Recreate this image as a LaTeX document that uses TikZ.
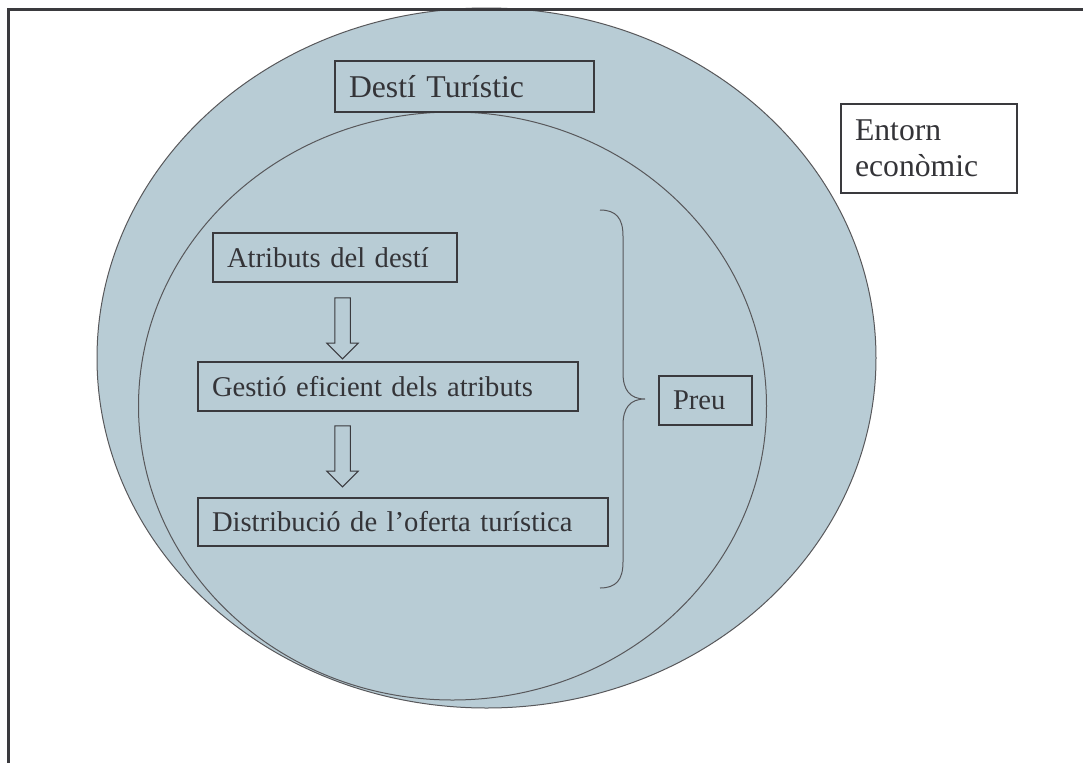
\documentclass[tikz,border=0pt]{standalone}
\usepackage{fontspec}
\setmainfont{Liberation Serif}
\usepackage{tikz}
\usetikzlibrary{shapes.arrows}
\definecolor{blaucel}{RGB}{184,204,213}
\definecolor{vora}{RGB}{58,58,62}
\definecolor{lletra}{RGB}{52,52,56}

\begin{document}
\begin{tikzpicture}[scale=0.5,transform shape,x=1pt,y=-1pt]
		\useasboundingbox (0,0) rectangle (1083,762);
		\tikzstyle{every node}=[font=\fontsize{28.6}{36}\selectfont,text=lletra]
		\tikzset{CaixaStyle/.style = {draw=vora,line width=1.45pt,shape=rectangle,inner xsep=14pt,inner ysep=0pt,align=left}}
		\tikzset{FletxaStyle/.style = {draw=vora,line width=0.5pt,shape=single arrow,single arrow head extend=8pt,inner xsep=0pt,inner ysep=7.5pt,minimum height=61pt,rotate=-90}}
		\tikzset{ZonaStyle/.style = {draw=vora!85,fill=blaucel,line width=0.5pt}}
		% entorn i desti
		\draw[ZonaStyle] (486.5,358) ellipse [x radius=389.5, y radius=350];
		\draw[ZonaStyle] (452.5,406) ellipse [x radius=314, y radius=294];
		\draw[draw=vora,line width=1.5pt] (8,770) -- (8,9) -- (1090,9);
		\node[CaixaStyle,text width=231pt,minimum height=51pt,font=\fontsize{31.7}{36}\selectfont] (desti) at (464.5,86.5) {Destí Turístic};
		\node[CaixaStyle,text width=148pt,minimum height=89pt,font=\fontsize{31.7}{36}\selectfont] (entorn) at (929,148.5) {Entorn\\econòmic};
		\node[CaixaStyle,text width=216pt,minimum height=49pt] (atributs) at (335,257.5) {Atributs del destí};
		\node[CaixaStyle,text width=352pt,minimum height=49pt] (gestio) at (388,386.5) {Gestió eficient dels atributs};
		\node[CaixaStyle,text width=382pt,minimum height=48pt] (distribucio) at (403,522) {Distribució de l’oferta turística};
		\node[CaixaStyle,text width=65pt,minimum height=49pt] (preu) at (705.5,400.5) {Preu};
		\node[FletxaStyle] (fletxa1) at (342.5,324.5) {};
		\node[FletxaStyle] (fletxa2) at (342.5,452.5) {};
		% clau
		\draw[vora!85,line width=0.5pt] (600,210) .. controls (616,210) and (623,218) .. (623,236) -- (623,373)
			.. controls (623,390) and (630,399) .. (645,399) .. controls (630,399) and (623,408) .. (623,425)
			-- (623,562) .. controls (623,580) and (616,588) .. (600,588);
	\end{tikzpicture}
\end{document}
